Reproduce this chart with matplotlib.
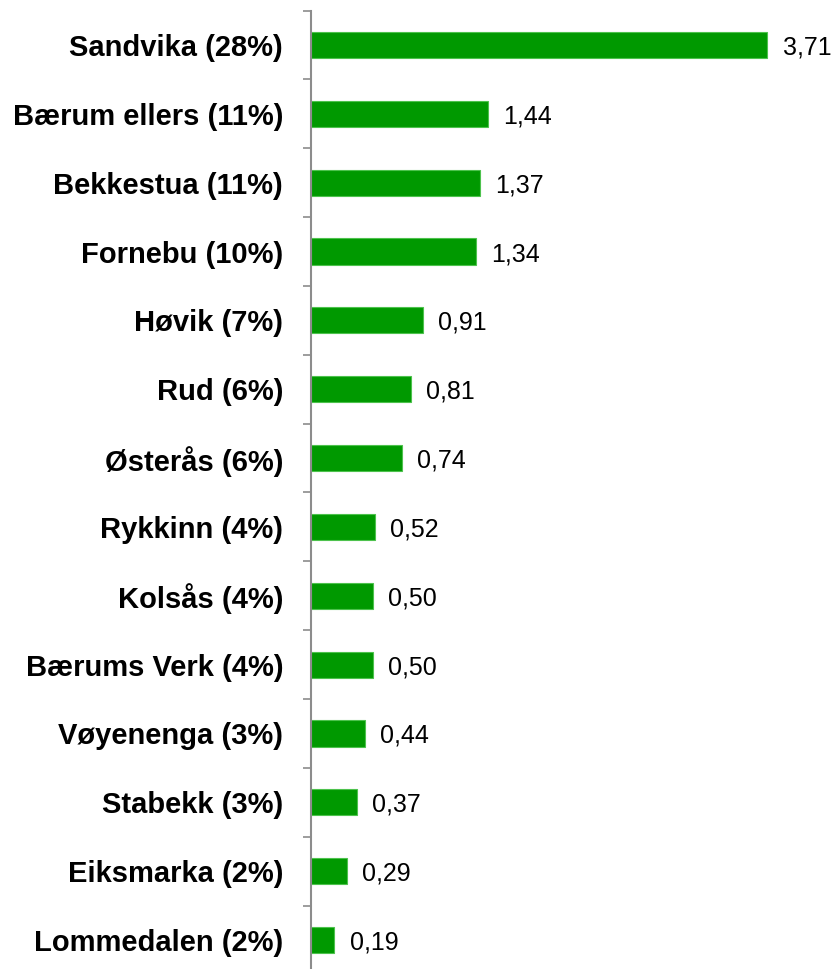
import matplotlib
matplotlib.use("Agg")
import matplotlib.pyplot as plt
import numpy as np

categories = ["Sandvika (28%)", "Bærum ellers (11%)", "Bekkestua (11%)", "Fornebu (10%)",
              "Høvik (7%)", "Rud (6%)", "Østerås (6%)", "Rykkinn (4%)", "Kolsås (4%)",
              "Bærums Verk (4%)", "Vøyenenga (3%)", "Stabekk (3%)", "Eiksmarka (2%)",
              "Lommedalen (2%)"]
values = [3.71, 1.44, 1.37, 1.34, 0.91, 0.81, 0.74, 0.52, 0.50, 0.50, 0.44, 0.37, 0.29, 0.19]

plt.rcParams['font.family'] = ['Liberation Sans', 'DejaVu Sans']

fig = plt.figure(figsize=(8.37, 9.69), dpi=100)
ax = fig.add_axes([311/837, -0.0056, (803-311)/837, 0.9946 + 0.0056 - 0.0055])

n = len(categories)
y = np.arange(n)
ax.barh(y, values, height=0.38, color="#009900", edgecolor="#4dc24d", linewidth=0.8)
ax.set_ylim(n - 0.5, -0.5)
ax.set_xlim(0, 4.0)

ax.set_yticks(y)
ax.set_yticklabels(categories, fontsize=21, fontweight="bold")
ax.tick_params(axis="y", which="major", length=0, pad=20)
ax.set_yticks(np.arange(-0.5, n + 0.5, 1), minor=True)
ax.tick_params(axis="y", which="minor", length=6, width=1.2, color="#8c8c8c", direction="out")

ax.set_xticks([])
for s in ["top", "right", "bottom"]:
    ax.spines[s].set_visible(False)
ax.spines["left"].set_color("#8c8c8c")
ax.spines["left"].set_linewidth(1.5)

for yi, v in zip(y, values):
    ax.annotate(f"{v:.2f}".replace(".", ","), xy=(v, yi), xytext=(11, 0),
                textcoords="offset points", va="center_baseline", ha="left", fontsize=18)

fig.savefig("out.png", dpi=100)
